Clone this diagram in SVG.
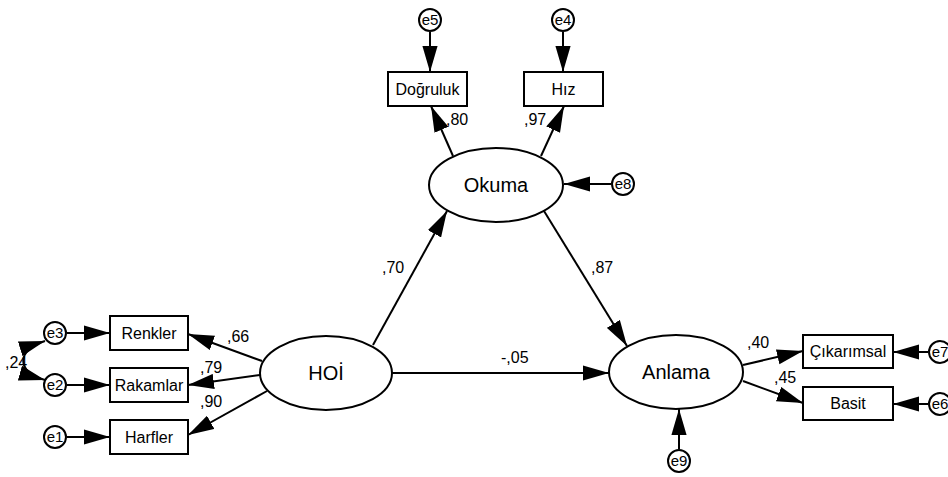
<svg xmlns="http://www.w3.org/2000/svg" width="948" height="477" viewBox="0 0 948 477">
  <style>
    .box { fill: #fff; stroke: #000; stroke-width: 2; }
    .lat { fill: #fff; stroke: #000; stroke-width: 2; }
    .err { fill: #fff; stroke: #000; stroke-width: 2; }
    .edge { fill: none; stroke: #000; stroke-width: 2; marker-end: url(#arrow); }
    .cov { fill: none; stroke: #000; stroke-width: 2; marker-start: url(#arrow); marker-end: url(#arrow); }
    text { font-family: "Liberation Sans", Arial, sans-serif; fill: #000; text-anchor: middle; }
    .t-lat { font-size: 20px; }
    .t-box { font-size: 16px; }
    .t-err { font-size: 15px; }
    .t-w { font-size: 16px; text-anchor: start; }
  </style>
  <defs>
    <marker id="arrow" markerUnits="userSpaceOnUse" markerWidth="26" markerHeight="16" viewBox="0 0 24 14" refX="24" refY="7" orient="auto-start-reverse">
      <path d="M0,0 L24,7 L0,14 Z" fill="#000"/>
    </marker>
  </defs>

  <!-- connectors -->
  <g id="connectors">
    <!-- error terms into indicators -->
    <line class="edge" x1="67" y1="333" x2="110" y2="333"/>
    <line class="edge" x1="67" y1="385" x2="110" y2="385"/>
    <line class="edge" x1="67" y1="437" x2="110" y2="437"/>
    <line class="edge" x1="430" y1="32" x2="430" y2="72"/>
    <line class="edge" x1="563" y1="32" x2="563" y2="72"/>
    <line class="edge" x1="611" y1="184" x2="564" y2="184"/>
    <line class="edge" x1="928" y1="352" x2="893" y2="352"/>
    <line class="edge" x1="928" y1="404" x2="893" y2="404"/>
    <line class="edge" x1="679" y1="449" x2="679" y2="409"/>
    <!-- covariance e3 - e2 -->
    <path class="cov" d="M45,341 C16,350 16,372 45,380"/>
    <!-- HOİ loadings -->
    <line class="edge" x1="262" y1="361" x2="188" y2="334"/>
    <line class="edge" x1="260" y1="375" x2="188" y2="385"/>
    <line class="edge" x1="267" y1="391" x2="188" y2="435"/>
    <!-- Okuma loadings -->
    <line class="edge" x1="453" y1="156" x2="431" y2="106"/>
    <line class="edge" x1="541" y1="156" x2="564" y2="106"/>
    <!-- Anlama loadings -->
    <line class="edge" x1="743" y1="365" x2="803" y2="351"/>
    <line class="edge" x1="743" y1="381" x2="803" y2="403"/>
    <!-- structural paths -->
    <line class="edge" x1="373" y1="345" x2="447" y2="211"/>
    <line class="edge" x1="544" y1="211" x2="627" y2="346"/>
    <line class="edge" x1="392" y1="373" x2="609" y2="373"/>
  </g>

  <!-- path weights -->
  <g id="weights">
    <text class="t-w" x="5" y="368">,24</text>
    <text class="t-w" x="227" y="342">,66</text>
    <text class="t-w" x="200" y="373">,79</text>
    <text class="t-w" x="200" y="407">,90</text>
    <text class="t-w" x="446" y="125">,80</text>
    <text class="t-w" x="524" y="125">,97</text>
    <text class="t-w" x="382" y="273">,70</text>
    <text class="t-w" x="591" y="273">,87</text>
    <text class="t-w" x="501" y="363">-,05</text>
    <text class="t-w" x="747" y="348">,40</text>
    <text class="t-w" x="774" y="383">,45</text>
  </g>

  <!-- latent variables -->
  <g id="HOI">
    <ellipse class="lat" cx="326" cy="373" rx="66" ry="37"/>
    <text class="t-lat" x="326" y="380">HOİ</text>
  </g>
  <g id="Okuma">
    <ellipse class="lat" cx="496" cy="185" rx="67" ry="37"/>
    <text class="t-lat" x="496" y="192">Okuma</text>
  </g>
  <g id="Anlama">
    <ellipse class="lat" cx="676" cy="372" rx="67" ry="37"/>
    <text class="t-lat" x="676" y="379">Anlama</text>
  </g>

  <!-- observed indicators -->
  <g id="Renkler">
    <rect class="box" x="110" y="316" width="78" height="34"/>
    <text class="t-box" x="149" y="339">Renkler</text>
  </g>
  <g id="Rakamlar">
    <rect class="box" x="110" y="368" width="78" height="34"/>
    <text class="t-box" x="149" y="391">Rakamlar</text>
  </g>
  <g id="Harfler">
    <rect class="box" x="110" y="420" width="78" height="34"/>
    <text class="t-box" x="149" y="443">Harfler</text>
  </g>
  <g id="Dogruluk">
    <rect class="box" x="388" y="72" width="79" height="34"/>
    <text class="t-box" x="427.5" y="95">Doğruluk</text>
  </g>
  <g id="Hiz">
    <rect class="box" x="524" y="72" width="79" height="34"/>
    <text class="t-box" x="563.5" y="95">Hız</text>
  </g>
  <g id="Cikarimsal">
    <rect class="box" x="803" y="335" width="90" height="33"/>
    <text class="t-box" x="848" y="357">Çıkarımsal</text>
  </g>
  <g id="Basit">
    <rect class="box" x="803" y="387" width="90" height="33"/>
    <text class="t-box" x="848" y="409">Basit</text>
  </g>

  <!-- error terms -->
  <g id="e1"><circle class="err" cx="55" cy="437" r="11"/><text class="t-err" x="55" y="442">e1</text></g>
  <g id="e2"><circle class="err" cx="55" cy="385" r="11"/><text class="t-err" x="55" y="390">e2</text></g>
  <g id="e3"><circle class="err" cx="55" cy="333" r="11"/><text class="t-err" x="55" y="338">e3</text></g>
  <g id="e4"><circle class="err" cx="563" cy="20" r="11"/><text class="t-err" x="563" y="25">e4</text></g>
  <g id="e5"><circle class="err" cx="430" cy="20" r="11"/><text class="t-err" x="430" y="25">e5</text></g>
  <g id="e6"><circle class="err" cx="940" cy="404" r="11"/><text class="t-err" x="940" y="409">e6</text></g>
  <g id="e7"><circle class="err" cx="940" cy="352" r="11"/><text class="t-err" x="940" y="357">e7</text></g>
  <g id="e8"><circle class="err" cx="623" cy="184" r="11"/><text class="t-err" x="623" y="189">e8</text></g>
  <g id="e9"><circle class="err" cx="679" cy="461" r="11"/><text class="t-err" x="679" y="466">e9</text></g>
</svg>
